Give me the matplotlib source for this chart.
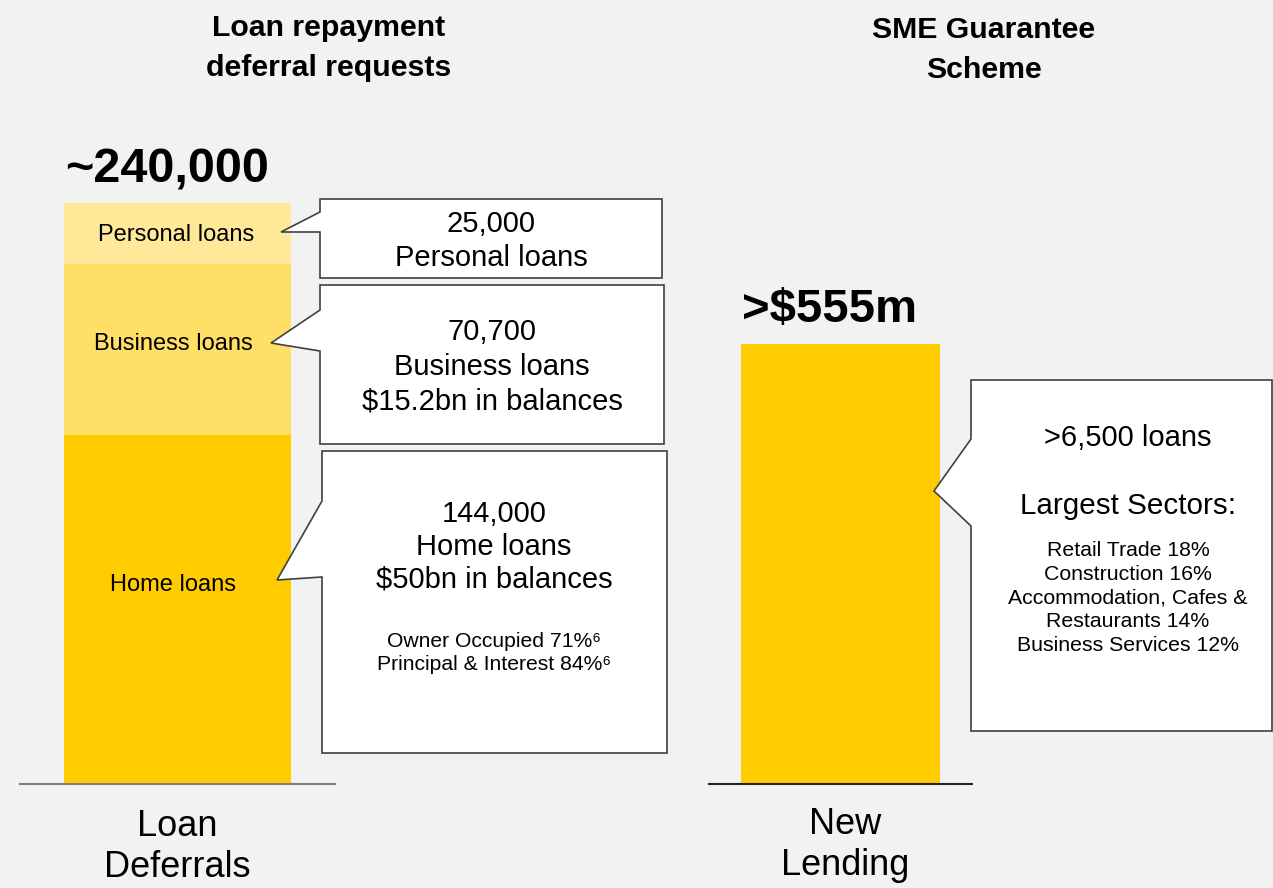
import matplotlib.pyplot as plt
from matplotlib.patches import Polygon

plt.rcParams['font.family'] = ['Liberation Sans', 'DejaVu Sans']

# data
segments = ["Home loans", "Business loans", "Personal loans"]
deferrals = [144000, 70700, 25000]
seg_colors = ["#FFCC00", "#FFDF66", "#FFE999"]
lending_value = 555  # $m

left_title = "Loan repayment\ndeferral requests"
right_title = "SME Guarantee\nScheme"
left_total_label = "~240,000"
right_total_label = ">$555m"
left_cat = "Loan\nDeferrals"
right_cat = "New\nLending"

callout_main = [
    "144,000\nHome loans\n$50bn in balances",
    "70,700\nBusiness loans\n$15.2bn in balances",
    "25,000\nPersonal loans",
]
home_notes = "Owner Occupied 71%\u2076\nPrincipal & Interest 84%\u2076"
lending_main = ">6,500 loans"
lending_head = "Largest Sectors:"
sectors = ["Retail Trade 18%", "Construction 16%", "Accommodation, Cafes &",
           "Restaurants 14%", "Business Services 12%"]

W, H = 1273, 888
BG = "#F2F2F2"


def fx(x):
    return x / W


def fy(y):
    return 1 - y / H


fig = plt.figure(figsize=(W / 100, H / 100), dpi=100, facecolor=BG)

# left stacked bar
ax1 = fig.add_axes([fx(20), fy(784), (335 - 20) / W, (784 - 203) / H])
bottom = 0
for name, val, col in zip(segments, deferrals, seg_colors):
    ax1.bar(0, val, bottom=bottom, width=0.72, color=col, zorder=2)
    bottom += val
ax1.set_ylim(0, sum(deferrals))
ax1.set_xlim(-0.5, 0.5)

# right bar
ax2 = fig.add_axes([fx(709), fy(784), (972 - 709) / W, (784 - 344) / H])
ax2.bar(0, lending_value, width=0.753, color="#FFCC00", zorder=2)
ax2.set_ylim(0, lending_value)
ax2.set_xlim(-0.5, 0.5)

for ax, lc in [(ax1, "#808080"), (ax2, "#222222")]:
    ax.patch.set_visible(False)
    for s in ["left", "right", "top"]:
        ax.spines[s].set_visible(False)
    ax.spines["bottom"].set_color(lc)
    ax.spines["bottom"].set_linewidth(1.5)
    ax.spines["bottom"].set_zorder(3)
    ax.set_xticks([])
    ax.set_yticks([])

# titles and totals
fig.text(fx(329), fy(48), left_title, ha="center", va="center",
         fontsize=21.8, fontweight="bold", linespacing=1.5)
fig.text(fx(984), fy(50), right_title, ha="center", va="center",
         fontsize=21.8, fontweight="bold", linespacing=1.5)
fig.text(fx(167), fy(170), left_total_label, ha="center", va="center",
         fontsize=35, fontweight="bold")
fig.text(fx(830), fy(310), right_total_label, ha="center", va="center",
         fontsize=34, fontweight="bold")

# category labels below
fig.text(fx(177), fy(847), left_cat, ha="center", va="center",
         fontsize=26, linespacing=1.2)
fig.text(fx(845), fy(845), right_cat, ha="center", va="center",
         fontsize=26, linespacing=1.25)

# callout shapes: box (x0, y0, x1, y1), pointer (top y, tip x, tip y, bottom y)
callouts = [
    ((322, 451, 667, 753), (501, 277, 580, 577)),
    ((320, 285, 664, 444), (310, 271, 343, 351)),
    ((320, 199, 662, 278), (212, 281, 232, 232)),
    ((971, 380, 1272, 731), (439, 934, 491, 526)),
]
for (x0, y0, x1, y1), (pt, tx, ty, pb) in callouts:
    pts = [(x0, y0), (x1, y0), (x1, y1), (x0, y1), (x0, pb), (tx, ty), (x0, pt)]
    fig.patches.append(Polygon([(fx(a), fy(b)) for a, b in pts], closed=True,
                               transform=fig.transFigure, facecolor="white",
                               edgecolor="#404040", linewidth=1.2, zorder=5))

# bar segment labels, aligned with pointer tips
label_y = [585, 344, 235]
label_x = [173, 173, 176]
for name, lx, ly in zip(segments, label_x, label_y):
    fig.text(fx(lx), fy(ly), name, ha="center", va="center", fontsize=17, zorder=6)

# callout texts
fig.text(fx(494), fy(547), callout_main[0], ha="center", va="center",
         fontsize=21, linespacing=1.22, zorder=6)
fig.text(fx(494), fy(653), home_notes, ha="center", va="center",
         fontsize=15.2, linespacing=1.3, zorder=6)
fig.text(fx(492), fy(367), callout_main[1], ha="center", va="center",
         fontsize=21, linespacing=1.3, zorder=6)
fig.text(fx(491), fy(241), callout_main[2], ha="center", va="center",
         fontsize=21, linespacing=1.28, zorder=6)

fig.text(fx(1128), fy(438), lending_main, ha="center", va="center",
         fontsize=21, zorder=6)
fig.text(fx(1128), fy(506), lending_head, ha="center", va="center",
         fontsize=21.3, zorder=6)
fig.text(fx(1128), fy(598), "\n".join(sectors), ha="center", va="center",
         fontsize=15.3, linespacing=1.32, zorder=6)

fig.savefig("out.png", dpi=100, facecolor=BG)
